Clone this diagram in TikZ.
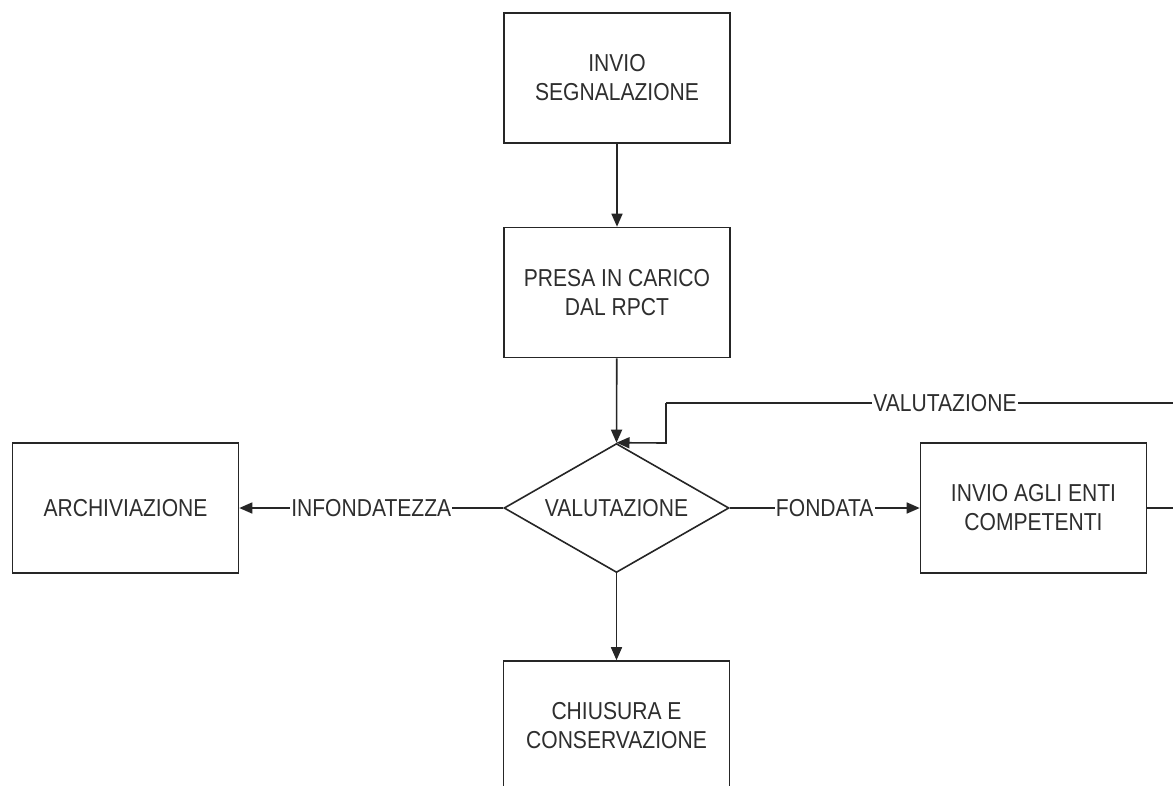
\documentclass[tikz,border=0pt]{standalone}
\usepackage{fontspec}
\setmainfont{Liberation Sans}[FakeStretch=0.86]
\usetikzlibrary{arrows.meta,shapes.geometric}
\begin{document}
\begin{tikzpicture}[x=1pt,y=-1pt,
  font=\fontsize{24.5}{29}\selectfont,
  every node/.append style={text=black!82},
  line/.style={draw=black!85,line width=1.6pt},
  arr/.style={line,-{Triangle[length=13pt,width=11pt]}},
  stepbox/.style={line,rectangle,minimum width=226pt,minimum height=130pt,align=center,inner sep=0pt,fill=white},
  decision/.style={line,diamond,aspect=1.744,minimum width=225pt,minimum height=129pt,inner sep=0pt,fill=white},
  lbl/.style={fill=white,inner sep=1pt}]
\useasboundingbox (0,0) rectangle (1173,785);
\clip (0,0) rectangle (1173,785);
\fill[white] (0,0) rectangle (1173,785);
\node[stepbox] (invio) at (617,78) {INVIO\\SEGNALAZIONE};
\node[stepbox] (presa) at (617,292.5) {PRESA IN CARICO\\DAL RPCT};
\node[decision] (val) at (616.5,508) {VALUTAZIONE};
\node[stepbox] (arch) at (125.5,508) {ARCHIVIAZIONE};
\node[stepbox] (enti) at (1033.5,508) {INVIO AGLI ENTI\\COMPETENTI};
\node[stepbox] (chius) at (616.5,726) {CHIUSURA E\\CONSERVAZIONE};
\coordinate (r1) at (1224,508);
\coordinate (r2) at (1224,403);
\coordinate (l1) at (666,403);
\coordinate (l2) at (666,443);
\draw[arr] (invio) -- (presa);
\draw[arr] (presa) -- (val.north);
\draw[arr] (val.west) -- node[lbl] {INFONDATEZZA} (arch.east);
\draw[arr] (val.east) -- node[lbl] {FONDATA} (enti.west);
\draw[arr] (val.south) -- (chius.north);
\draw[line] (enti.east) -- (r1) -- (r2) -- node[lbl] {VALUTAZIONE} (l1);
\draw[arr] (l1) -- (l2) -- (val.north);
\end{tikzpicture}
\end{document}
